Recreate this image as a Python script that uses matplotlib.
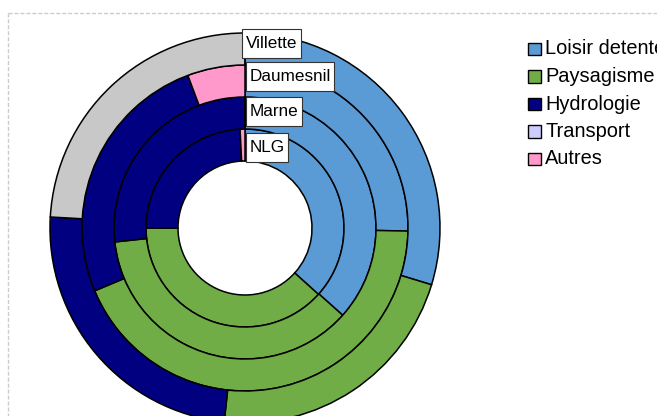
"""Concentric donut: share of each activity type per park (NLG inside, Villette outside)."""
import matplotlib
matplotlib.use("Agg")
import matplotlib.pyplot as plt
from matplotlib.patches import Rectangle

plt.rcParams["font.family"] = ["Liberation Sans", "DejaVu Sans"]
plt.rcParams["lines.scale_dashes"] = False

# categories (legend order) and shares in % per ring, inner -> outer
categories = ["Loisir detente", "Paysagisme", "Hydrologie", "Transport", "Autres"]
rings = ["NLG", "Marne", "Daumesnil", "Villette"]
nlg = [36.7, 38.3, 24.2, 0.0, 0.8]
marne = [36.6, 36.7, 26.7, 0.0, 0.0]
daumesnil = [25.3, 43.4, 25.6, 0.0, 5.7]
villette = [29.7, 22.0, 24.2, 24.1, 0.0]
ring_values = [nlg, marne, daumesnil, villette]

slice_colors = ["#5B9BD5", "#70AD47", "#000080", "#C8C8C8", "#FF99CC"]
legend_colors = ["#5B9BD5", "#70AD47", "#000080", "#CCCCFF", "#FF99CC"]

W, H = 657, 416
fig = plt.figure(figsize=(W / 100, H / 100), dpi=100)
ax = fig.add_axes([0, 0, 1, 1])

# work in pixel units (origin bottom-left)
cx, cy = 245, H - 228
hole = 67
band = 32

for i, vals in enumerate(ring_values):
    ax.pie(vals, colors=slice_colors, startangle=90, counterclock=False,
           center=(cx, cy), radius=hole + band * (i + 1), normalize=True,
           wedgeprops=dict(width=band, edgecolor="black", linewidth=1.1))

ax.set_xlim(0, W)
ax.set_ylim(0, H)
ax.set_aspect("equal")
ax.axis("off")

# ring name tags just right of the 12 o'clock seam (inner -> outer)
tag_left = [246, 246, 246, 242]
tag_mid = [147, 111.5, 76.5, 43.5]   # px from top
tag_h = 29
pad = 3.5
tags = []
for name, x, y in zip(rings, tag_left, tag_mid):
    t = ax.text(x + pad, H - y, name, fontsize=12.3, ha="left",
                va="center", zorder=6)
    tags.append((t, x, y))

fig.canvas.draw()
renderer = fig.canvas.get_renderer()
for t, x, y in tags:
    bb = t.get_window_extent(renderer)
    ax.add_patch(Rectangle((x, H - y - tag_h / 2), bb.width + 2 * pad, tag_h,
                           facecolor="white", edgecolor="#333333",
                           linewidth=0.8, zorder=5))

# legend, drawn by hand to keep the squares small
for k, (lab, col) in enumerate(zip(categories, legend_colors)):
    yc = H - (49 + 27.5 * k)
    ax.add_patch(Rectangle((528, yc - 6.25), 12.5, 12.5, facecolor=col,
                           edgecolor="black", linewidth=1.0, clip_on=False))
    ax.text(545, yc, lab, fontsize=14.4, ha="left", va="center")

# dashed frame of the chart area
frame = dict(color="#CCCCCC", linewidth=1.0, dashes=(2.9, 1.4))
ax.plot([7.5, 7.5], [-5, H - 12.5], **frame)
ax.plot([7.5, W + 5], [H - 12.5, H - 12.5], **frame)

fig.savefig("out.png", dpi=100)
